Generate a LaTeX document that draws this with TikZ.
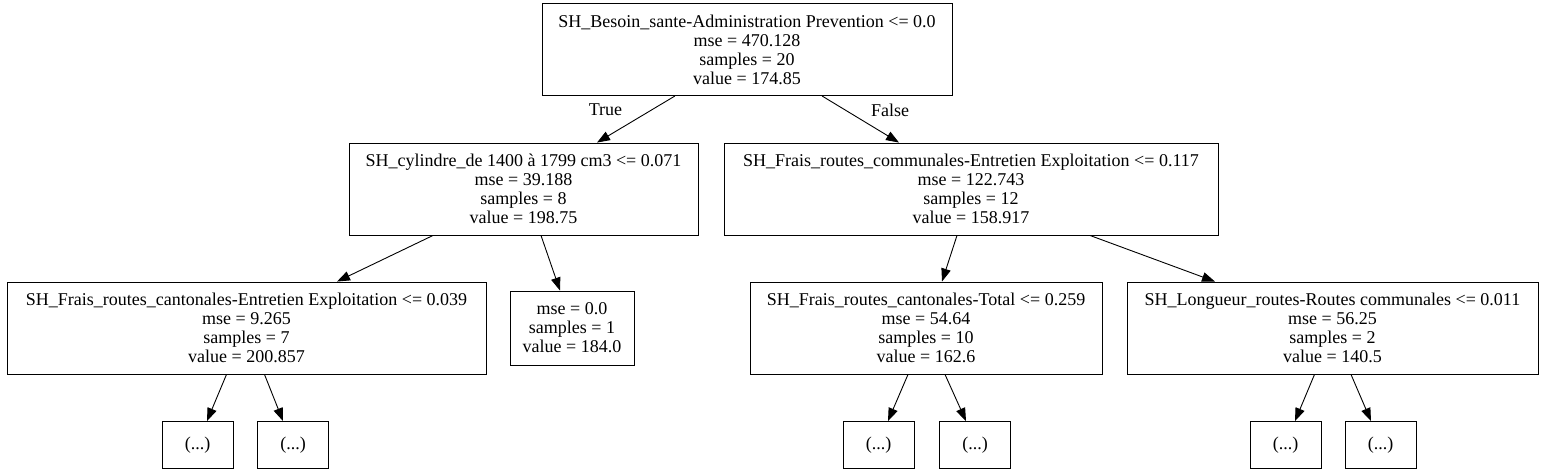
\documentclass[tikz,border=0pt]{standalone}
\usepackage{fontspec}
\setmainfont{Liberation Serif}
\usetikzlibrary{arrows.meta, positioning}

\begin{document}
\begin{tikzpicture}[
  x=1pt, y=-1pt,
  every node/.style={font=\fontsize{18}{19}\selectfont},
  split/.style={draw, line width=0.9pt, align=center, inner sep=0pt,
                minimum height=92pt},
  leafbox/.style={split, minimum height=74pt, minimum width=124pt},
  dots/.style={draw, line width=0.9pt, inner sep=0pt,
               minimum width=71pt, minimum height=47pt},
  arr/.style={-{Triangle[length=13pt, width=9.5pt]}, line width=0.9pt}
]
  \useasboundingbox (0,0) rectangle (1545,475);

  % Root
  \node[split, minimum width=410pt] (root) at (747,49.5)
    {SH\_Besoin\_sante-Administration Prevention <= 0.0\\mse = 470.128\\samples = 20\\value = 174.85};

  % Level 1
  \node[split, minimum width=349pt] (cyl) at (523.5,189)
    {SH\_cylindre\_de 1400 à 1799 cm3 <= 0.071\\mse = 39.188\\samples = 8\\value = 198.75};
  \node[split, minimum width=494pt] (comm) at (971,189)
    {SH\_Frais\_routes\_communales-Entretien Exploitation <= 0.117\\mse = 122.743\\samples = 12\\value = 158.917};

  % Level 2
  \node[split, minimum width=479pt] (cant) at (246.5,328)
    {SH\_Frais\_routes\_cantonales-Entretien Exploitation <= 0.039\\mse = 9.265\\samples = 7\\value = 200.857};
  \node[leafbox] (leaf) at (572,328)
    {mse = 0.0\\samples = 1\\value = 184.0};
  \node[split, minimum width=352pt] (total) at (926,328)
    {SH\_Frais\_routes\_cantonales-Total <= 0.259\\mse = 54.64\\samples = 10\\value = 162.6};
  \node[split, minimum width=411pt] (longr) at (1332.5,328)
    {SH\_Longueur\_routes-Routes communales <= 0.011\\mse = 56.25\\samples = 2\\value = 140.5};

  % Truncated subtrees
  \node[dots] (cantL)  at (197.5,445) {(...)};
  \node[dots] (cantR)  at (293,445)   {(...)};
  \node[dots] (totalL) at (878.5,445) {(...)};
  \node[dots] (totalR) at (975,445)   {(...)};
  \node[dots] (longrL) at (1285.5,445) {(...)};
  \node[dots] (longrR) at (1380.5,445) {(...)};

  \draw[arr] ([xshift=-72pt]root.south)   -- ([xshift=73.5pt]cyl.north);
  \draw[arr] ([xshift=75pt]root.south)    -- ([xshift=-72pt]comm.north);
  \draw[arr] ([xshift=-90.5pt]cyl.south)  -- ([xshift=90.5pt]cant.north);
  \draw[arr] ([xshift=17.5pt]cyl.south)   -- ([xshift=-12pt]leaf.north);
  \draw[arr] ([xshift=-14pt]comm.south)   -- ([xshift=16pt]total.north);
  \draw[arr] ([xshift=119pt]comm.south)   -- ([xshift=-117.5pt]longr.north);

  \draw[arr] ([xshift=-20pt]cant.south)   -- ([xshift=9.5pt]cantL.north);
  \draw[arr] ([xshift=18pt]cant.south)    -- ([xshift=-10pt]cantR.north);
  \draw[arr] ([xshift=-18pt]total.south)  -- ([xshift=9.5pt]totalL.north);
  \draw[arr] ([xshift=19pt]total.south)   -- ([xshift=-9pt]totalR.north);
  \draw[arr] ([xshift=-18pt]longr.south)  -- ([xshift=9.5pt]longrL.north);
  \draw[arr] ([xshift=18.5pt]longr.south) -- ([xshift=-9.5pt]longrR.north);

  \node (yes) at (605.5,110) {True};
  \node (no)  at (890,110)   {False};
\end{tikzpicture}
\end{document}
